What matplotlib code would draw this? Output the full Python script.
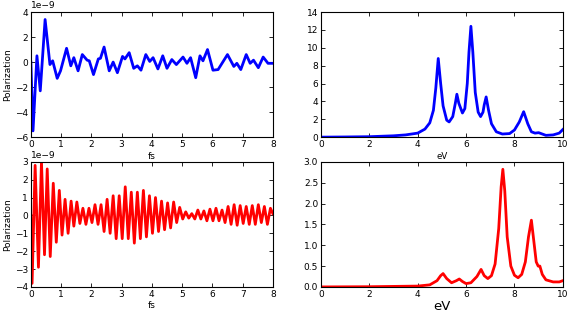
"""
plot.py

Redraws the four-panel polarization / spectrum figure:
- time-domain polarization (fs) on the left
- spectra (eV) on the right
"""

import matplotlib
matplotlib.use("Agg")
import matplotlib.pyplot as plt

SCALE = 1e-9

# top-left: blue polarization, values in units of 1e-9
blue_t = [0.0, 0.07, 0.2, 0.31, 0.47, 0.63, 0.72, 0.87, 0.98, 1.18,
          1.32, 1.42, 1.56, 1.7, 1.86, 1.93, 2.07, 2.23, 2.3, 2.42,
          2.59, 2.72, 2.86, 3.03, 3.11, 3.25, 3.4, 3.52, 3.64, 3.8,
          3.93, 4.04, 4.2, 4.36, 4.5, 4.66, 4.81, 5.03, 5.16, 5.28,
          5.45, 5.59, 5.69, 5.84, 6.02, 6.19, 6.5, 6.71, 6.81, 6.94,
          7.12, 7.25, 7.36, 7.52, 7.68, 7.84, 8.0]
blue_p = [0.0, -5.5, 0.5, -2.3, 3.4, -0.2, 0.1, -1.3, -0.7, 1.1,
          -0.3, 0.35, -0.7, 0.6, 0.15, 0.1, -1.0, 0.25, 0.3, 1.2,
          -0.7, 0.0, -0.85, 0.45, 0.25, 0.75, -0.5, -0.3, -0.65, 0.6,
          0.05, 0.35, -0.55, 0.5, -0.5, 0.2, -0.2, 0.4, -0.1, 0.35,
          -1.25, 0.5, 0.1, 1.0, -0.65, -0.6, 0.6, -0.35, -0.1, -0.6,
          0.6, -0.1, 0.15, -0.45, 0.4, -0.1, -0.1]

# bottom-left: red polarization, values in units of 1e-9
red_t = [0.0, 0.04, 0.14, 0.25, 0.35, 0.45, 0.54, 0.64, 0.74, 0.84,
         0.94, 1.03, 1.13, 1.23, 1.33, 1.42, 1.52, 1.62, 1.72, 1.82,
         1.92, 2.02, 2.12, 2.22, 2.32, 2.42, 2.52, 2.62, 2.72, 2.82,
         2.92, 3.02, 3.12, 3.22, 3.32, 3.42, 3.52, 3.62, 3.72, 3.82,
         3.92, 4.02, 4.12, 4.22, 4.32, 4.42, 4.52, 4.62, 4.72, 4.82,
         4.92, 5.02, 5.12, 5.22, 5.32, 5.42, 5.52, 5.62, 5.72, 5.82,
         5.92, 6.02, 6.12, 6.22, 6.32, 6.42, 6.52, 6.62, 6.72, 6.82,
         6.92, 7.02, 7.12, 7.22, 7.32, 7.42, 7.52, 7.62, 7.72, 7.82,
         7.92, 8.0]
red_p = [0.0, -3.8, 2.8, -2.9, 3.0, -2.2, 2.6, -2.3, 1.8, -1.5,
         1.4, -1.1, 0.9, -1.0, 0.8, -0.6, 0.75, -0.45, 0.4, -0.5,
         0.4, -0.4, 0.6, -0.5, 0.6, -0.9, 0.9, -1.0, 1.1, -1.3,
         1.1, -1.3, 1.6, -1.3, 1.3, -1.55, 1.3, -1.3, 1.4, -1.2,
         1.1, -1.0, 1.0, -0.9, 0.8, -0.8, 0.7, -0.7, 0.75, -0.4,
         0.45, -0.2, 0.2, -0.15, 0.1, -0.2, 0.3, -0.2, 0.25, -0.3,
         0.35, -0.3, 0.4, -0.3, 0.3, -0.4, 0.5, -0.5, 0.6, -0.55,
         0.55, -0.45, 0.5, -0.5, 0.55, -0.5, 0.6, -0.4, 0.5, -0.5,
         0.4, 0.1]

# top-right: blue spectrum
blue_ev = [0.0, 1.0, 2.0, 3.0, 3.5, 4.0, 4.3, 4.5, 4.65, 4.75,
           4.85, 4.95, 5.05, 5.2, 5.3, 5.45, 5.55, 5.62, 5.7, 5.85,
           5.95, 6.05, 6.12, 6.2, 6.28, 6.38, 6.5, 6.6, 6.7, 6.75,
           6.83, 6.93, 7.05, 7.25, 7.5, 7.8, 8.0, 8.2, 8.38, 8.55,
           8.7, 8.85, 9.0, 9.1, 9.3, 9.6, 9.85, 10.0]
blue_s = [0.0, 0.02, 0.05, 0.15, 0.25, 0.45, 0.9, 1.6, 3.0, 5.5,
          8.8, 6.0, 3.5, 1.9, 1.7, 2.3, 3.7, 4.8, 3.8, 2.7,
          3.2, 6.0, 9.5, 12.4, 9.5, 5.0, 2.8, 2.3, 2.8, 3.6,
          4.5, 3.0, 1.5, 0.6, 0.35, 0.4, 0.8, 1.7, 2.85, 1.5,
          0.6, 0.45, 0.5, 0.4, 0.2, 0.25, 0.45, 0.85]

# bottom-right: red spectrum
red_ev = [0.0, 2.0, 4.0, 4.5, 4.8, 4.95, 5.05, 5.2, 5.4, 5.6,
          5.72, 5.85, 6.0, 6.2, 6.45, 6.62, 6.75, 6.9, 7.05, 7.2,
          7.35, 7.45, 7.52, 7.6, 7.7, 7.85, 8.0, 8.15, 8.3, 8.45,
          8.58, 8.7, 8.8, 8.9, 8.98, 9.05, 9.15, 9.3, 9.6, 9.85, 10.0]
red_s = [0.0, 0.005, 0.02, 0.05, 0.15, 0.27, 0.32, 0.2, 0.1, 0.15,
         0.19, 0.13, 0.08, 0.1, 0.25, 0.42, 0.27, 0.2, 0.27, 0.55,
         1.4, 2.4, 2.82, 2.3, 1.2, 0.5, 0.28, 0.22, 0.3, 0.6,
         1.2, 1.6, 1.1, 0.6, 0.5, 0.5, 0.3, 0.17, 0.12, 0.12, 0.15]

FS = 6.5


def style_axes(ax) -> None:
    """Old-style matplotlib look: inward ticks on all four sides."""
    ax.tick_params(direction="in", top=True, right=True, length=3,
                   width=0.6, labelsize=FS, pad=2)
    for sp in ax.spines.values():
        sp.set_linewidth(0.8)
    ax.yaxis.get_offset_text().set_fontsize(FS)


def main() -> None:
    fig = plt.figure(figsize=(5.72, 3.16), dpi=100)

    ax1 = fig.add_axes([0.054, 0.566, 0.423, 0.396])
    ax1.plot(blue_t, [v * SCALE for v in blue_p], color="#0000ff", lw=2,
             solid_joinstyle="round")
    ax1.set_xlim(0, 8)
    ax1.set_ylim(-6e-9, 4e-9)
    ax1.set_xticks(range(0, 9))
    ax1.set_yticks([v * SCALE for v in [-6, -4, -2, 0, 2, 4]])
    ax1.set_xlabel("fs", fontsize=FS, labelpad=2)
    ax1.set_ylabel("Polarization", fontsize=FS, labelpad=2)
    style_axes(ax1)

    ax2 = fig.add_axes([0.561, 0.566, 0.423, 0.396])
    ax2.plot(blue_ev, blue_s, color="#0000ff", lw=2, solid_joinstyle="round")
    ax2.set_xlim(0, 10)
    ax2.set_ylim(0, 14)
    ax2.set_yticks(range(0, 15, 2))
    ax2.set_xlabel("eV", fontsize=6.2, labelpad=2)
    style_axes(ax2)

    ax3 = fig.add_axes([0.054, 0.092, 0.423, 0.396])
    ax3.plot(red_t, [v * SCALE for v in red_p], color="#ff0000", lw=2,
             solid_joinstyle="round")
    ax3.set_xlim(0, 8)
    ax3.set_ylim(-4e-9, 3e-9)
    ax3.set_xticks(range(0, 9))
    ax3.set_yticks([v * SCALE for v in [-4, -3, -2, -1, 0, 1, 2, 3]])
    ax3.set_xlabel("fs", fontsize=FS, labelpad=2)
    ax3.set_ylabel("Polarization", fontsize=FS, labelpad=2)
    style_axes(ax3)

    ax4 = fig.add_axes([0.561, 0.092, 0.423, 0.396])
    ax4.plot(red_ev, red_s, color="#ff0000", lw=2, solid_joinstyle="round")
    ax4.set_xlim(0, 10)
    ax4.set_ylim(0, 3.0)
    ax4.set_yticks([0.0, 0.5, 1.0, 1.5, 2.0, 2.5, 3.0])
    ax4.set_xlabel("eV", fontsize=9.5, labelpad=1)
    style_axes(ax4)

    fig.savefig("out.png", dpi=100)


if __name__ == "__main__":
    main()
